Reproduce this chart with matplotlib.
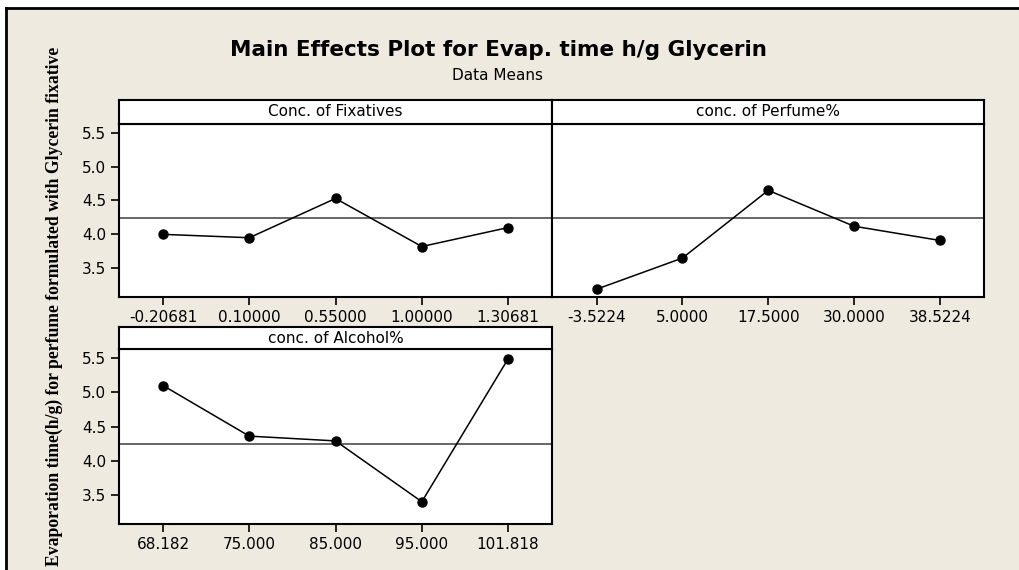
import numpy as np
import matplotlib
matplotlib.use("Agg")
import matplotlib.pyplot as plt
from matplotlib.lines import Line2D

# level labels and data means
fix_levels = ["-0.20681", "0.10000", "0.55000", "1.00000", "1.30681"]
fix_means = [4.00, 3.95, 4.53, 3.82, 4.10]

perf_levels = ["-3.5224", "5.0000", "17.5000", "30.0000", "38.5224"]
perf_means = [3.19, 3.65, 4.65, 4.12, 3.91]

alc_levels = ["68.182", "75.000", "85.000", "95.000", "101.818"]
alc_means = [5.10, 4.36, 4.29, 3.40, 5.49]

grand_mean = 4.24
y_ticks = [3.5, 4.0, 4.5, 5.0, 5.5]

panels = [
    ("Conc. of Fixatives", fix_levels, fix_means),
    ("conc. of Perfume%", perf_levels, perf_means),
    ("conc. of Alcohol%", alc_levels, alc_means),
]

W, H = 1020, 570
bg = "#EEEAE0"
fig = plt.figure(figsize=(W / 100, H / 100), dpi=100)
fig.patch.set_facecolor("white")

# beige frame with black edge on top and left
fig.patches.append(plt.Rectangle((6 / W, 0), 1 - 6 / W, 1 - 8 / H,
                                 transform=fig.transFigure, facecolor=bg,
                                 edgecolor="none", zorder=-5))
fig.add_artist(Line2D([6 / W, 1], [1 - 8 / H, 1 - 8 / H], color="black", lw=2))
fig.add_artist(Line2D([6 / W, 6 / W], [0, 1 - 8 / H], color="black", lw=2))

# pixel boxes: (left, right, strip_top, plot_top, plot_bottom)
boxes = [
    (118.6, 552.5, 99.5, 124.0, 297.3),
    (552.5, 984.0, 99.5, 124.0, 297.3),
    (118.6, 552.5, 327.3, 349.3, 524.3),
]

sans = "DejaVu Sans"
for i, ((name, levels, means), (l, r, st, pt, pb)) in enumerate(zip(panels, boxes)):
    ax = fig.add_axes([l / W, 1 - pb / H, (r - l) / W, (pb - pt) / H])
    ax.set_facecolor("white")
    x = np.arange(len(levels))
    ax.axhline(grand_mean, color="#4d4d4d", lw=1.2, zorder=1)
    ax.plot(x, means, color="black", lw=1.1, marker="o", ms=6.5, zorder=3)
    ax.set_xlim(-0.515, len(levels) - 1 + 0.515)
    ax.set_ylim(3.07, 5.63)
    ax.set_xticks(x)
    ax.set_xticklabels(levels, fontfamily=sans, fontsize=11)
    ax.set_yticks(y_ticks)
    if i == 1:
        ax.tick_params(axis="y", left=False, labelleft=False)
    else:
        ax.set_yticklabels([f"{v:.1f}" for v in y_ticks], fontfamily=sans, fontsize=11)
    ax.tick_params(direction="out", length=6, width=1.2, color="black", pad=3)
    for s in ax.spines.values():
        s.set_linewidth(1.5)

    sax = fig.add_axes([l / W, 1 - pt / H, (r - l) / W, (pt - st) / H])
    sax.set_facecolor("white")
    sax.set_xticks([])
    sax.set_yticks([])
    for s in sax.spines.values():
        s.set_linewidth(1.5)
    sax.text(0.5, 0.5, name, ha="center", va="center", fontfamily=sans,
             fontsize=11, transform=sax.transAxes)

fig.text(498 / W, 1 - 50 / H, "Main Effects Plot for Evap. time h/g Glycerin",
         ha="center", va="center", fontfamily=sans, fontweight="bold", fontsize=15.5)
fig.text(498 / W, 1 - 75 / H, "Data Means", ha="center", va="center",
         fontfamily=sans, fontsize=11)
fig.text(54 / W, 1 - 47 / H,
         "Evaporation time(h/g) for perfume formulated with Glycerin fixative",
         rotation=90, ha="center", va="top", fontfamily="Liberation Serif",
         fontweight="bold", fontsize=12.7)

fig.savefig("out.png", dpi=100, facecolor=fig.get_facecolor())
